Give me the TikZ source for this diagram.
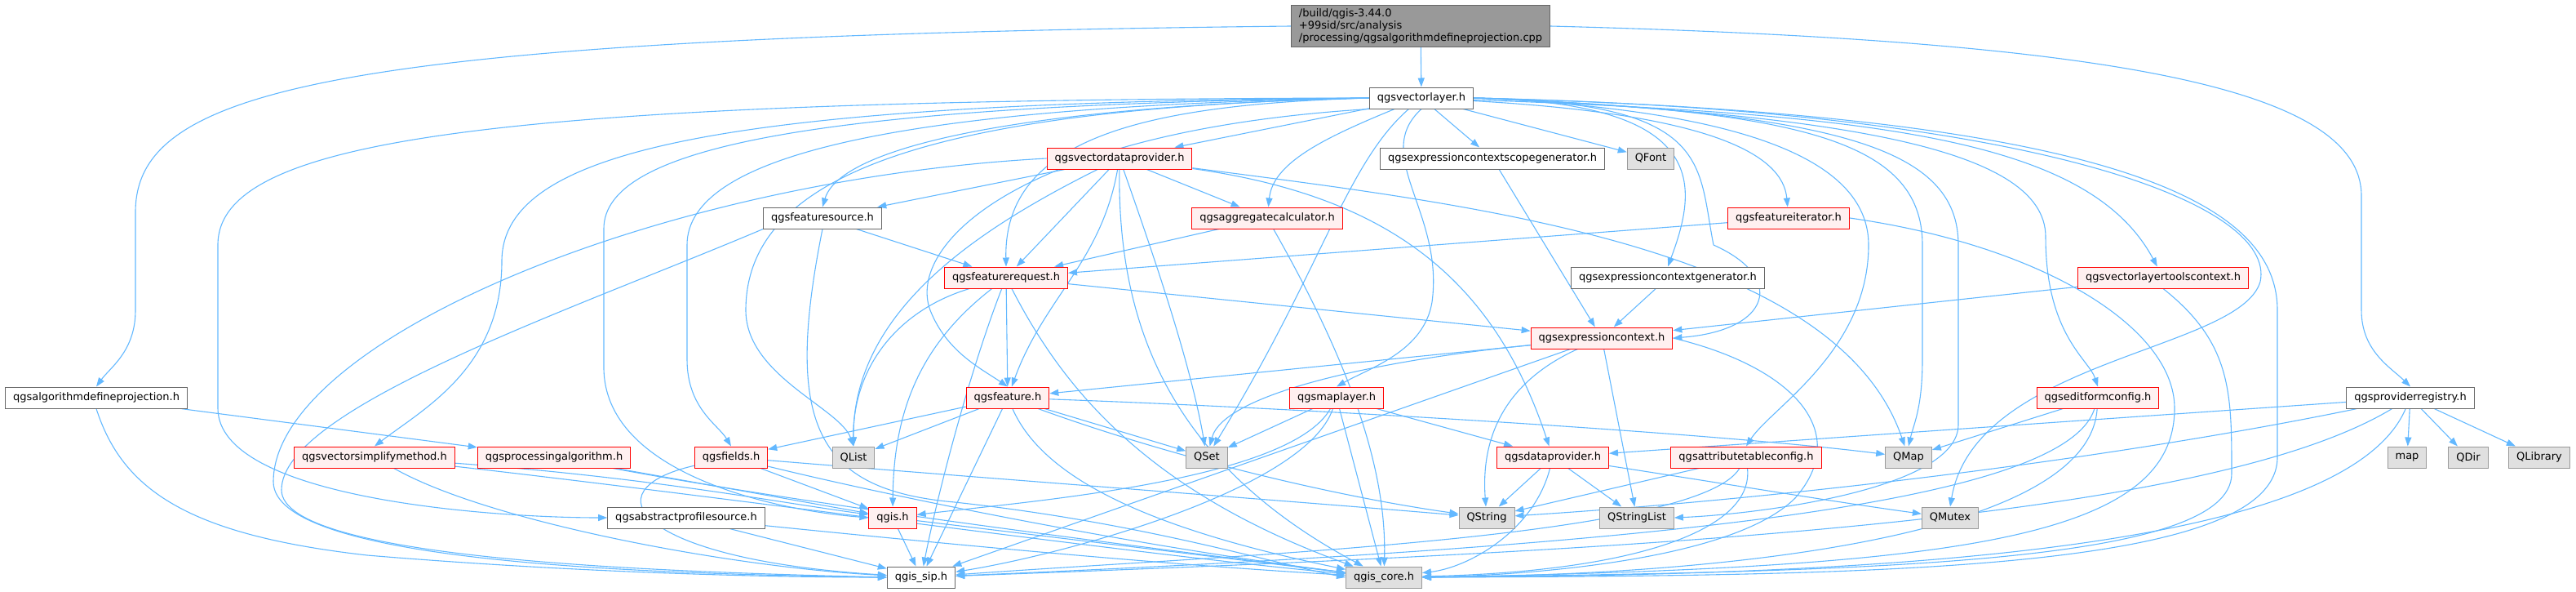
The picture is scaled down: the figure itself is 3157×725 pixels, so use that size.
\documentclass[tikz,border=0pt]{standalone}
\usepackage{fontspec}
\setmainfont{DejaVu Sans}
\usepackage{tikz}
\usetikzlibrary{arrows.meta}
\usetikzlibrary{backgrounds}
\definecolor{edgeblue}{HTML}{63B8FF}
\definecolor{nodeline}{HTML}{666666}
\definecolor{redline}{HTML}{FF0000}
\definecolor{redfill}{HTML}{FFF0F0}
\definecolor{sysline}{HTML}{999999}
\definecolor{sysfill}{HTML}{E0E0E0}

\begin{document}
\begin{tikzpicture}[x = 1pt, y = 1pt,
  every node/.style = {draw = nodeline, fill = white, line width = 1pt, minimum height = 26pt,
    inner xsep = 9.5pt, inner ysep = 2pt, font = \fontsize{13}{15}\selectfont},
  hdr/.style = {draw = redline, fill = redfill},
  sys/.style = {draw = sysline, fill = sysfill},
  dep/.style = {draw = edgeblue, line width = 1.1pt, -{Triangle[length = 11pt, width = 8pt]}}
]
\useasboundingbox (0,0) rectangle (3157,-725);

\node[fill = sysline, align = left, inner ysep = 4pt] (root) at (1741,-32)
  {/build/qgis-3.44.0\\+99sid/src/analysis\\/processing/qgsalgorithmdefineprojection.cpp};
\node (vl) at (1742,-120) {qgsvectorlayer.h};
\node[hdr] (vdp) at (1372,-194) {qgsvectordataprovider.h};
\node (ecsg) at (1829,-194) {qgsexpressioncontextscopegenerator.h};
\node[sys] (qfont) at (2023,-194) {QFont};
\node (fsrc) at (1008,-267) {qgsfeaturesource.h};
\node[hdr] (agg) at (1553,-267) {qgsaggregatecalculator.h};
\node[hdr] (fit) at (2192,-267) {qgsfeatureiterator.h};
\node[hdr] (freq) at (1233,-340) {qgsfeaturerequest.h};
\node (ecg) at (2044,-340) {qgsexpressioncontextgenerator.h};
\node[hdr] (vltc) at (2651,-340) {qgsvectorlayertoolscontext.h};
\node[hdr] (ec) at (1963,-414) {qgsexpressioncontext.h};
\node (adp) at (118,-487) {qgsalgorithmdefineprojection.h};
\node[hdr] (feat) at (1235,-487) {qgsfeature.h};
\node[hdr] (ml) at (1638,-487) {qgsmaplayer.h};
\node[hdr] (efc) at (2571,-487) {qgseditformconfig.h};
\node (preg) at (2954,-487) {qgsproviderregistry.h};
\node[hdr] (vsm) at (459,-560) {qgsvectorsimplifymethod.h};
\node[hdr] (palg) at (679,-560) {qgsprocessingalgorithm.h};
\node[hdr] (flds) at (896,-560) {qgsfields.h};
\node[sys] (qlist) at (1046,-560) {QList};
\node[sys] (qset) at (1479,-560) {QSet};
\node[hdr] (dp) at (1903,-560) {qgsdataprovider.h};
\node[hdr] (atc) at (2140,-560) {qgsattributetableconfig.h};
\node[sys] (qmap) at (2339,-560) {QMap};
\node[sys] (map) at (2950,-560) {map};
\node[sys] (qdir) at (3025,-560) {QDir};
\node[sys] (qlib) at (3112,-560) {QLibrary};
\node (abps) at (841,-634) {qgsabstractprofilesource.h};
\node[hdr] (qgis) at (1094,-634) {qgis.h};
\node[sys] (qstr) at (1822,-634) {QString};
\node[sys] (qsl) at (2006,-634) {QStringList};
\node[sys] (qmutex) at (2390,-634) {QMutex};
\node (sip) at (1129,-707) {qgis\_sip.h};
\node[sys] (core) at (1696,-707) {qgis\_core.h};

\begin{scope}[on background layer]
% root file
\draw[dep] (root.west) .. controls (400,-45) and (166,-110) .. (166,-260) -- (166,-380) .. controls (166,-430) and (135,-450) .. (adp.north);
\draw[dep] (root) -- (vl);
\draw[dep] (root.east) .. controls (2600,-50) and (2894,-110) .. (2894,-240) -- (2894,-380) .. controls (2894,-430) and (2930,-450) .. (preg.north);
\draw[dep] (adp) -- (palg);
\draw[dep] (adp.south) .. controls (150,-600) and (230,-655) .. (450,-680) .. controls (750,-705) and (1000,-707) .. (sip.west);
% qgsvectorlayer.h
\draw[dep] (vl.west) .. controls (600,-122) and (267,-170) .. (267,-300) -- (267,-500) .. controls (267,-610) and (600,-634) .. (abps.west);
\draw[dep] (vl.west) .. controls (900,-125) and (615,-180) .. (615,-320) .. controls (615,-450) and (520,-500) .. (vsm.north);
\draw[dep] (vl.west) .. controls (1000,-128) and (740,-180) .. (740,-280) -- (740,-450) .. controls (740,-580) and (950,-625) .. (qgis.west);
\draw[dep] (vl.west) .. controls (1100,-130) and (842,-190) .. (842,-300) -- (842,-440) .. controls (842,-500) and (880,-520) .. (flds.north);
\draw[dep] (vl.west) .. controls (1150,-132) and (914,-210) .. (914,-380) .. controls (914,-460) and (1030,-500) .. (qlist.north);
\draw[dep] (vl.west) .. controls (1250,-130) and (1030,-180) .. (fsrc.north);
\draw[dep] (vl.west) .. controls (1400,-128) and (1230,-170) .. (freq.north);
\draw[dep] (vl.south west) .. controls (1250,-160) and (1110,-300) .. (1140,-380) .. controls (1160,-430) and (1200,-450) .. (feat.north);
\draw[dep] (vl) -- (vdp);
\draw[dep] (vl) .. controls (1620,-170) and (1560,-200) .. (agg);
\draw[dep] (vl) .. controls (1650,-200) and (1620,-330) .. (qset);
\draw[dep] (vl.south) .. controls (1680,-190) and (1770,-260) .. (1755,-370) .. controls (1745,-430) and (1680,-450) .. (ml.north);
\draw[dep] (vl) -- (ecsg);
\draw[dep] (vl) -- (qfont);
\draw[dep] (vl.east) .. controls (2100,-125) and (2080,-230) .. (ecg.north);
\draw[dep] (vl.east) .. controls (2100,-125) and (2080,-200) .. (2100,-300) .. controls (2190,-340) and (2170,-405) .. (ec.east);
\draw[dep] (vl) .. controls (2100,-140) and (2185,-190) .. (fit);
\draw[dep] (vl.east) .. controls (2150,-135) and (2290,-200) .. (2290,-300) .. controls (2290,-430) and (2170,-500) .. (atc.north);
\draw[dep] (vl.east) .. controls (2200,-135) and (2356,-170) .. (2356,-300) -- (2356,-440) .. controls (2356,-500) and (2345,-520) .. (qmap.north);
\draw[dep] (vl.east) .. controls (2250,-138) and (2400,-180) .. (2400,-300) -- (2400,-520) .. controls (2400,-600) and (2150,-630) .. (qsl.east);
\draw[dep] (vl.east) .. controls (2250,-140) and (2507,-180) .. (2507,-290) .. controls (2507,-410) and (2560,-440) .. (efc.north);
\draw[dep] (vl) .. controls (2300,-140) and (2560,-170) .. (vltc);
\draw[dep] (vl.east) .. controls (2500,-135) and (2790,-250) .. (2770,-345) .. controls (2745,-430) and (2420,-440) .. (qmutex.north);
\draw[dep] (vl.east) .. controls (2600,-140) and (2791,-250) .. (2791,-380) -- (2791,-560) .. controls (2791,-700) and (2300,-705) .. (core.east);
% qgsvectordataprovider.h
\draw[dep] (vdp) -- (fsrc);
\draw[dep] (vdp) -- (freq);
\draw[dep] (vdp) -- (agg);
\draw[dep] (vdp) to[out = -100, in = 70] (feat);
\draw[dep] (vdp) .. controls (1200,-280) and (1045,-380) .. (qlist);
\draw[dep] (vdp) .. controls (1420,-330) and (1460,-450) .. (qset);
\draw[dep] (vdp) .. controls (1800,-250) and (2250,-300) .. (qmap);
\draw[dep] (vdp) .. controls (1700,-240) and (1830,-340) .. (dp);
\draw[dep] (vdp.west) .. controls (800,-220) and (335,-420) .. (335,-590) .. controls (335,-690) and (800,-703) .. (sip.west);
\draw[dep] (vdp) .. controls (1370,-380) and (1420,-560) .. (core);
% qgsfeaturesource.h, qgsaggregatecalculator.h
\draw[dep] (fsrc) -- (freq);
\draw[dep] (fsrc.south west) .. controls (700,-380) and (345,-500) .. (345,-600) .. controls (345,-685) and (800,-700) .. (sip.west);
\draw[dep] (fsrc.south) .. controls (960,-520) and (1000,-600) .. (1170,-615) .. controls (1400,-640) and (1560,-690) .. (core.west);
\draw[dep] (agg) -- (freq);
\draw[dep] (agg) .. controls (1640,-420) and (1700,-560) .. (core);
% qgsfeaturerequest.h
\draw[dep] (freq) .. controls (1100,-380) and (1045,-450) .. (qlist);
\draw[dep] (freq) .. controls (1130,-420) and (1095,-500) .. (qgis);
\draw[dep] (freq) .. controls (1190,-450) and (1150,-600) .. (sip);
\draw[dep] (freq) -- (feat);
\draw[dep] (freq) .. controls (1300,-470) and (1400,-600) .. (core);
\draw[dep] (freq) -- (ec);
% iterator, tools context, generators
\draw[dep] (fit) -- (freq);
\draw[dep] (fit.east) .. controls (2500,-300) and (2665,-400) .. (2665,-500) .. controls (2665,-660) and (2400,-695) .. (core.east);
\draw[dep] (vltc) -- (ec);
\draw[dep] (vltc.south) .. controls (2735,-420) and (2735,-480) .. (2735,-580) .. controls (2735,-690) and (2300,-700) .. (core.east);
\draw[dep] (ecsg) -- (ec);
\draw[dep] (ecg) -- (ec);
% qgsexpressioncontext.h
\draw[dep] (ec) -- (feat);
\draw[dep] (ec) .. controls (1700,-440) and (1500,-480) .. (qset);
\draw[dep] (ec) -- (sip);
\draw[dep] (ec) .. controls (1840,-470) and (1815,-540) .. (qstr);
\draw[dep] (ec) -- (qsl);
\draw[dep] (ec.east) .. controls (2200,-450) and (2270,-530) .. (2200,-610) .. controls (2120,-690) and (1850,-705) .. (core.east);
% qgsmaplayer.h
\draw[dep] (ml) -- (qset);
\draw[dep] (ml) .. controls (1580,-590) and (1250,-615) .. (qgis);
\draw[dep] (ml) .. controls (1600,-600) and (1300,-680) .. (sip);
\draw[dep] (ml) -- (core);
\draw[dep] (ml) -- (dp);
% qgsfeature.h
\draw[dep] (feat) -- (flds);
\draw[dep] (feat) -- (qlist);
\draw[dep] (feat) -- (sip);
\draw[dep] (feat) .. controls (1280,-590) and (1420,-650) .. (core);
\draw[dep] (feat) -- (qset);
\draw[dep] (feat) .. controls (1450,-565) and (1650,-610) .. (qstr);
\draw[dep] (feat) .. controls (1600,-500) and (2100,-530) .. (qmap);
% qgsfields.h and the lower row
\draw[dep] (flds) -- (qgis);
\draw[dep] (flds) .. controls (720,-600) and (780,-685) .. (sip);
\draw[dep] (flds) .. controls (1100,-610) and (1400,-670) .. (core);
\draw[dep] (flds) .. controls (1200,-585) and (1600,-615) .. (qstr);
\draw[dep] (vsm) .. controls (800,-585) and (950,-615) .. (qgis);
\draw[dep] (vsm) .. controls (600,-640) and (900,-695) .. (sip);
\draw[dep] (vsm) .. controls (900,-610) and (1400,-680) .. (core);
\draw[dep] (palg) -- (qgis);
\draw[dep] (palg) .. controls (1000,-620) and (1400,-670) .. (core);
\draw[dep] (abps) -- (sip);
\draw[dep] (abps) .. controls (1100,-660) and (1400,-690) .. (core);
\draw[dep] (qgis) -- (sip);
\draw[dep] (qgis) -- (core);
% qgsdataprovider.h, configs
\draw[dep] (dp) -- (qstr);
\draw[dep] (dp) -- (qsl);
\draw[dep] (dp) .. controls (1880,-650) and (1800,-695) .. (core);
\draw[dep] (dp) .. controls (2100,-590) and (2250,-615) .. (qmutex);
\draw[dep] (atc) -- (qstr);
\draw[dep] (atc) .. controls (2080,-660) and (1500,-680) .. (sip);
\draw[dep] (atc) .. controls (2150,-650) and (2000,-700) .. (core);
\draw[dep] (efc) -- (qmap);
\draw[dep] (efc) .. controls (2530,-620) and (2000,-670) .. (sip);
\draw[dep] (efc) .. controls (2560,-660) and (2100,-705) .. (core);
% qgsproviderregistry.h
\draw[dep] (preg) -- (dp);
\draw[dep] (preg) .. controls (2600,-560) and (2200,-610) .. (qstr);
\draw[dep] (preg) .. controls (2700,-640) and (2000,-675) .. (sip);
\draw[dep] (preg) .. controls (2880,-660) and (2400,-705) .. (core);
\draw[dep] (preg) -- (map);
\draw[dep] (preg) -- (qdir);
\draw[dep] (preg) -- (qlib);
\end{scope}
\end{tikzpicture}
\end{document}
